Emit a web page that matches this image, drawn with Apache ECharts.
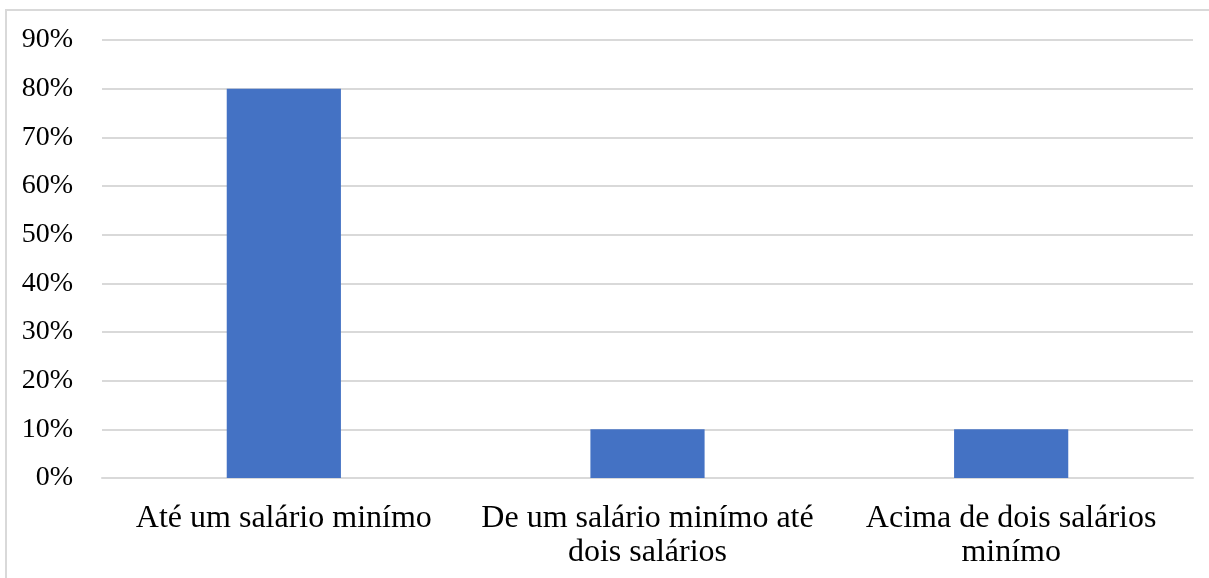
<!DOCTYPE html>
<html>
<head>
<meta charset="utf-8">
<script src="https://cdn.jsdelivr.net/npm/echarts@6/dist/echarts.min.js"></script>
<style>
  html, body { margin: 0; padding: 0; background: #fff; }
  #chart { width: 1209px; height: 578px; }
</style>
</head>
<body>
<div id="chart"></div>
<script>
// Faixa de renda: share of respondents per income band
const categories = ['Até um salário minímo', 'De um salário minímo até\ndois salários', 'Acima de dois salários\nminímo'];
const shares = [0.80, 0.10, 0.10];
const yTicks = { min: 0, max: 0.9, interval: 0.1 };

const font = '"Liberation Serif", "Times New Roman", serif';
const chart = echarts.init(document.getElementById('chart'), null, { renderer: 'canvas' });

chart.setOption({
  animation: false,
  backgroundColor: '#fff',
  graphic: [{
    type: 'rect',
    shape: { x: 6, y: 10, width: 1220, height: 600 },
    style: { fill: 'none', stroke: '#d9d9d9', lineWidth: 2 },
    silent: true, z: -1
  }],
  grid: { left: 102, right: 16, top: 40, bottom: 100, containLabel: false },
  xAxis: {
    type: 'category',
    data: categories,
    axisLine: { show: true, lineStyle: { color: '#d9d9d9', width: 2 } },
    axisTick: { show: false },
    axisLabel: {
      color: '#000', fontFamily: font, fontSize: 32, margin: 24,
      lineHeight: 34, overflow: 'none', interval: 0, hideOverlap: false
    }
  },
  yAxis: {
    type: 'value',
    min: yTicks.min, max: yTicks.max, interval: yTicks.interval,
    axisLine: { show: false },
    axisTick: { show: false },
    splitLine: { lineStyle: { color: '#d9d9d9', width: 2 } },
    axisLabel: {
      color: '#000', fontFamily: font, fontSize: 28, margin: 29,
      formatter: v => Math.round(v * 100) + '%'
    }
  },
  series: [{
    type: 'bar',
    data: shares,
    barWidth: '31.4%',
    itemStyle: { color: '#4472C4' }
  }]
});
</script>
</body>
</html>
